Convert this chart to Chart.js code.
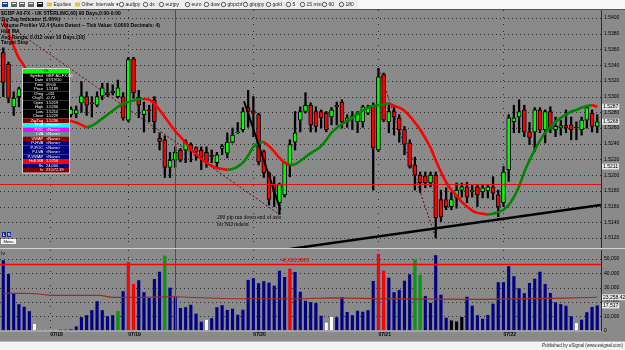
<!DOCTYPE html>
<html>
<head>
<meta charset="utf-8">
<title>GBP A0-FX 60</title>
<script src="https://cdn.jsdelivr.net/npm/chart.js@4.4.1/dist/chart.umd.min.js"></script>
<style>
  html, body { margin: 0; padding: 0; width: 625px; height: 350px; overflow: hidden; background: #8a8a8a; }
  canvas { position: absolute; left: 0; }
  #frame { top: 0; }
  #priceChart { top: 10px; }
  #volumeChart { top: 249px; }
</style>
</head>
<body>
<canvas id="frame" width="625" height="350"></canvas>
<canvas id="priceChart" width="625" height="238"></canvas>
<canvas id="volumeChart" width="625" height="92"></canvas>
<script>
// hourly bars, GBP A0-FX, 07/16 - 07/22
var opens = [
  1.5356,1.5341,1.5287,1.5300,1.5305,1.5296,1.5292,1.5290,1.5289,1.5288,
  1.5287,1.5286,1.5287,1.5277,1.5278,1.5292,1.5300,1.5292,1.5289,1.5301,
  1.5305,1.5307,1.5300,1.5300,1.5270,1.5348,1.5299,1.5277,1.5283,1.5296,
  1.5247,1.5245,1.5210,1.5219,1.5232,1.5232,1.5239,1.5235,1.5232,1.5229,
  1.5225,1.5216,1.5234,1.5228,1.5242,1.5254,1.5258,1.5286,1.5282,1.5277,
  1.5230,1.5203,1.5188,1.5165,1.5175,1.5213,1.5242,1.5270,1.5281,1.5289,
  1.5281,1.5281,1.5279,1.5274,1.5287,1.5293,1.5268,1.5274,1.5268,1.5268,
  1.5279,1.5289,1.5232,1.5328,1.5268,1.5281,1.5273,1.5258,1.5241,1.5213,
  1.5200,1.5199,1.5190,1.5200,1.5169,1.5169,1.5160,1.5171,1.5181,1.5185,
  1.5179,1.5185,1.5179,1.5180,1.5185,1.5175,1.5165,1.5207,1.5268,1.5274,
  1.5283,1.5255,1.5255,1.5283,1.5258,1.5281,1.5258,1.5260,1.5263,1.5264,
  1.5261,1.5258,1.5270,1.5279,1.5262];
var highs = [
  1.5362,1.5344,1.5306,1.5312,1.5312,1.5302,1.5297,1.5292,1.5291,1.5290,
  1.5289,1.5288,1.5289,1.5287,1.5288,1.5319,1.5306,1.5300,1.5306,1.5317,
  1.5317,1.5315,1.5321,1.5305,1.5350,1.5350,1.5308,1.5293,1.5289,1.5300,
  1.5254,1.5250,1.5229,1.5236,1.5234,1.5245,1.5241,1.5236,1.5236,1.5236,
  1.5232,1.5229,1.5239,1.5254,1.5260,1.5267,1.5286,1.5308,1.5300,1.5279,
  1.5232,1.5204,1.5198,1.5190,1.5217,1.5245,1.5281,1.5287,1.5305,1.5292,
  1.5287,1.5283,1.5281,1.5286,1.5293,1.5296,1.5277,1.5281,1.5281,1.5289,
  1.5289,1.5292,1.5336,1.5330,1.5289,1.5289,1.5277,1.5262,1.5245,1.5223,
  1.5204,1.5204,1.5204,1.5204,1.5181,1.5184,1.5178,1.5190,1.5190,1.5191,
  1.5188,1.5188,1.5188,1.5188,1.5198,1.5181,1.5211,1.5277,1.5289,1.5296,
  1.5289,1.5267,1.5286,1.5286,1.5283,1.5287,1.5274,1.5270,1.5283,1.5274,
  1.5268,1.5274,1.5289,1.5283,1.5277];
var lows = [
  1.5300,1.5292,1.5276,1.5287,1.5292,1.5288,1.5287,1.5288,1.5287,1.5286,
  1.5285,1.5284,1.5284,1.5274,1.5273,1.5280,1.5276,1.5274,1.5287,1.5296,
  1.5300,1.5302,1.5298,1.5270,1.5268,1.5298,1.5273,1.5255,1.5268,1.5254,
  1.5232,1.5197,1.5197,1.5210,1.5217,1.5216,1.5217,1.5219,1.5207,1.5210,
  1.5216,1.5210,1.5226,1.5222,1.5241,1.5253,1.5255,1.5261,1.5249,1.5213,
  1.5197,1.5162,1.5160,1.5150,1.5172,1.5198,1.5232,1.5255,1.5279,1.5255,
  1.5255,1.5260,1.5255,1.5264,1.5264,1.5260,1.5261,1.5258,1.5254,1.5261,
  1.5277,1.5181,1.5230,1.5268,1.5254,1.5251,1.5242,1.5226,1.5209,1.5181,
  1.5178,1.5184,1.5185,1.5120,1.5141,1.5156,1.5156,1.5158,1.5172,1.5165,
  1.5172,1.5160,1.5171,1.5171,1.5169,1.5147,1.5160,1.5192,1.5254,1.5254,
  1.5249,1.5239,1.5230,1.5254,1.5241,1.5254,1.5249,1.5251,1.5254,1.5245,
  1.5245,1.5251,1.5260,1.5255,1.5254];
var closes = [
  1.5318,1.5298,1.5298,1.5310,1.5296,1.5292,1.5290,1.5289,1.5288,1.5287,
  1.5286,1.5287,1.5285,1.5284,1.5283,1.5301,1.5289,1.5291,1.5300,1.5311,
  1.5302,1.5305,1.5311,1.5273,1.5347,1.5305,1.5289,1.5283,1.5282,1.5268,
  1.5243,1.5210,1.5219,1.5229,1.5219,1.5242,1.5232,1.5230,1.5223,1.5217,
  1.5224,1.5226,1.5237,1.5242,1.5251,1.5255,1.5281,1.5281,1.5279,1.5217,
  1.5203,1.5169,1.5181,1.5188,1.5216,1.5239,1.5254,1.5281,1.5289,1.5264,
  1.5262,1.5273,1.5258,1.5283,1.5289,1.5268,1.5273,1.5275,1.5279,1.5287,
  1.5287,1.5235,1.5325,1.5270,1.5281,1.5274,1.5258,1.5239,1.5211,1.5200,
  1.5190,1.5190,1.5200,1.5146,1.5147,1.5160,1.5169,1.5181,1.5185,1.5172,
  1.5181,1.5175,1.5184,1.5185,1.5177,1.5160,1.5204,1.5273,1.5273,1.5281,
  1.5255,1.5248,1.5283,1.5258,1.5281,1.5260,1.5262,1.5263,1.5260,1.5258,
  1.5260,1.5270,1.5286,1.5262,1.5268];
var hullMA = [
  1.5398,1.5381,1.5364,1.5349,1.5339,1.5326,1.5314,1.5302,1.5293,1.5286,
  1.5279,1.5275,1.5272,1.5269,1.5267,1.5264,1.5261,1.5263,1.5267,1.5272,
  1.5277,1.5282,1.5287,1.5291,1.5293,1.5295,1.5297,1.5297,1.5296,1.5291,
  1.5283,1.5274,1.5265,1.5256,1.5249,1.5241,1.5233,1.5227,1.5221,1.5216,
  1.5212,1.5209,1.5208,1.5207,1.5208,1.5211,1.5216,1.5225,1.5236,1.5241,
  1.5242,1.5237,1.5230,1.5222,1.5216,1.5213,1.5214,1.5218,1.5223,1.5228,
  1.5232,1.5237,1.5245,1.5254,1.5260,1.5265,1.5269,1.5273,1.5278,1.5282,
  1.5286,1.5288,1.5289,1.5290,1.5291,1.5288,1.5286,1.5282,1.5275,1.5267,
  1.5258,1.5247,1.5235,1.5219,1.5204,1.5191,1.5181,1.5174,1.5166,1.5160,
  1.5155,1.5152,1.5151,1.5150,1.5151,1.5153,1.5156,1.5162,1.5172,1.5186,
  1.5204,1.5219,1.5232,1.5244,1.5254,1.5261,1.5268,1.5273,1.5277,1.5281,
  1.5283,1.5286,1.5288,1.5289,1.5287];
var volumes = [
  49200,39600,26100,18400,16800,13500,4900,600,600,600,
  600,700,700,800,3000,9300,10700,14200,20500,14200,
  10000,10700,13500,27500,47800,32600,35200,26800,22800,36100,
  41200,52400,30000,24000,15800,16300,18200,11900,6300,7700,
  8600,16300,17700,14400,15400,11200,14700,35400,36600,33100,
  34500,33600,31500,41900,37500,43300,41000,27300,21000,19800,
  19300,10500,5800,9800,9300,23300,13000,10700,14000,13300,
  14200,34700,53600,41900,37000,26800,28400,35000,39400,49600,
  38900,24200,19300,52700,25200,9100,7200,6500,9600,23800,
  17500,10700,8400,11000,18900,33800,33800,45000,38000,29600,
  26100,33300,36300,41200,32600,26300,19800,18400,17500,10000,
  5400,7700,12800,16500,17517];
// volume bar class: n normal, r red, g green, w white, k black (10 per group)
var volumeKinds = (
  'nnnnnnwwww' + 'wnnnnnnnnn' + 'nngnrrnnnn' + 'ngnnnnnnnw' +
  'nnnnnnnnnn' + 'nnnnnrnnnn' + 'nnwwnnnnnn' + 'nnrrnnnnng' +
  'gnnnnnkkkn' + 'nnnnnnnnnn' + 'nnnnnnnnnn' + 'wnnnn'
).split('');
var avgVolIdx = [0, 4, 6.5, 9, 14, 18.6, 21, 25, 33, 38, 44, 57, 63, 72, 83, 92, 102, 108, 114];
var avgVol = [26000, 26000, 25700, 24600, 24500, 24600, 23200, 23200, 23600, 22900, 22200, 22200, 22800, 22300, 22000, 21800, 22300, 22600, 23258.42];
var volumeAlert = 46602.8909;

var zigzagIdx = [0, 53, 72, 83, 114];
var zigzagPrice = [1.5395, 1.5150, 1.5336, 1.5120, 1.5211];
var trendIdx = [55, 114.7];
var trendPrice = [1.5106, 1.5162];
var drawnIdx = [46.2, 53.2];
var drawnPrice = [1.5294, 1.5156];

var priceTicks = [1.5120, 1.5140, 1.5160, 1.5180, 1.5200, 1.5220, 1.5240, 1.5260, 1.5280, 1.5300, 1.5320, 1.5340, 1.5360, 1.5380, 1.5400];
var volumeTicks = [0, 10000, 20000, 30000, 40000, 50000];
var dayIdx = [9, 24, 48, 72, 96];
var dayLabels = ['07/18', '07/19', '07/20', '07/21', '07/22'];
var crossIdx = 33;
var crossPrice = 1.5189;

var BG = '#8a8a8a';
var FONT = '"Liberation Sans Narrow", "Liberation Sans", Arial, sans-serif';
Chart.defaults.font.family = FONT;
Chart.defaults.color = '#000';

var barIdx = closes.map(function (c, i) { return i; });
function pts(xs, ys) { return xs.map(function (x, i) { return { x: x, y: ys[i] }; }); }
function fmt(v) { return v.toLocaleString('en-US'); }
function noPad(s) { s.paddingTop = 0; s.paddingBottom = 0; s.paddingLeft = 0; s.paddingRight = 0; }

function hLine(ctx, x1, x2, y) { ctx.beginPath(); ctx.moveTo(x1, y); ctx.lineTo(x2, y); ctx.stroke(); }
function vLine(ctx, x, y1, y2) { ctx.beginPath(); ctx.moveTo(x, y1); ctx.lineTo(x, y2); ctx.stroke(); }

function axisBox(ctx, x, y, text) {
  ctx.save();
  ctx.font = '5px ' + FONT;
  var w = ctx.measureText(text).width + 2;
  ctx.fillStyle = '#e6e6e6';
  ctx.fillRect(x, y - 3, w, 6);
  ctx.fillStyle = '#000';
  ctx.textBaseline = 'middle';
  ctx.textAlign = 'left';
  ctx.fillText(text, x + 1, y + 0.3);
  ctx.restore();
}

// ---- window frame: toolbar, panel divider, footer
var fr = document.getElementById('frame').getContext('2d');
fr.fillStyle = BG; fr.fillRect(0, 0, 625, 350);
fr.fillStyle = '#eeeeec'; fr.fillRect(0, 0, 625, 9);
fr.fillStyle = '#f8f8f8'; fr.fillRect(358, 0, 267, 9);
fr.fillStyle = '#555'; fr.fillRect(0, 9, 625, 1);
[[2, '#1f3f9a'], [11, '#666'], [19, '#666'], [28, '#666'], [37, '#222']].forEach(function (ic) {
  fr.fillStyle = ic[1]; fr.fillRect(ic[0], 2, 6, 5);
  fr.fillStyle = '#eee'; fr.fillRect(ic[0] + 1, 3, 4, 1);
});
var toolItems = [['Equities', 47, 'f'], ['Other Intervals \u25BE', 75, 'f'], ['audjpy', 119, 'o'], ['dx', 143, 'o'],
  ['eurjpy', 159, 'o'], ['euro', 185, 'o'], ['dow', 204, 'o'], ['gbpchf', 221, 'o'], ['gbpjpy', 243, 'o'],
  ['gold', 266, 'o'], ['5', 286, 'o'], ['15 min', 300, 'o'], ['60', 322, 'o'], ['180', 339, 'o']];
fr.font = '5px ' + FONT; fr.textBaseline = 'middle';
toolItems.forEach(function (t) {
  if (t[2] === 'f') { fr.fillStyle = '#e8c040'; fr.fillRect(t[1], 2.5, 5, 4); }
  else { fr.strokeStyle = '#333'; fr.lineWidth = 0.8; fr.beginPath(); fr.arc(t[1] + 2.5, 4.5, 2.2, 0, Math.PI * 2); fr.stroke(); }
  fr.fillStyle = '#222'; fr.fillText(t[0], t[1] + 6.5, 4.8);
});
fr.fillStyle = '#d2d2d2'; fr.fillRect(0, 248, 625, 1);
fr.fillStyle = '#f3f3f3'; fr.fillRect(0, 341, 625, 9);
fr.fillStyle = '#b8b8b8'; fr.fillRect(0, 341, 625, 1);
fr.fillStyle = '#222'; fr.font = '4.5px ' + FONT; fr.textAlign = 'right';
fr.fillText('Published by eSignal (www.esignal.com)', 623, 346);

// ---- price panel
var priceDeco = {
  id: 'priceDeco',
  beforeDraw: function (chart) {
    var ctx = chart.ctx;
    ctx.save(); ctx.fillStyle = BG; ctx.fillRect(0, 0, chart.width, chart.height); ctx.restore();
  },
  beforeDatasetsDraw: function (chart) {
    var ctx = chart.ctx, a = chart.chartArea, x = chart.scales.x, y = chart.scales.y;
    ctx.save();
    ctx.strokeStyle = '#2e2e2e'; ctx.lineWidth = 1;
    ctx.setLineDash([1, 3]);
    priceTicks.forEach(function (v) { hLine(ctx, a.left, a.right, Math.round(y.getPixelForValue(v)) + 0.5); });
    ctx.setLineDash([1, 6]);
    dayIdx.forEach(function (d) { vLine(ctx, Math.round(x.getPixelForValue(d)) + 0.5, a.top, a.bottom); });
    ctx.restore();
  },
  afterDatasetsDraw: function (chart) {
    var ctx = chart.ctx, a = chart.chartArea, x = chart.scales.x, y = chart.scales.y;
    ctx.save();
    // crosshair
    ctx.strokeStyle = '#e01010'; ctx.lineWidth = 1;
    hLine(ctx, a.left, a.right, Math.round(y.getPixelForValue(crossPrice)) + 0.5);
    vLine(ctx, Math.round(x.getPixelForValue(crossIdx)) + 0.5, a.top, a.bottom);
    // study titles
    var titles = ['$GBP A0-FX - UK STERLING,60) 90 Days,0:00-0:00', 'Zig Zag Indicator (1.00%)',
      'Volume Profiler V2.4 (Auto Detect -- Tick Value: 0.0001 Decimals: 4)', 'Hull MA',
      'Avg Range: 0.012 over 10 Days.(10)', 'Target Stop'];
    ctx.fillStyle = '#000'; ctx.font = 'bold 5px ' + FONT; ctx.textBaseline = 'middle'; ctx.textAlign = 'left';
    titles.forEach(function (t, i) { ctx.fillText(t, 1, 4 + i * 5.8); });
    // note
    ctx.font = '5.5px "Liberation Serif", serif';
    ctx.fillText('200 pip run down end of asia', 217, 208);
    ctx.fillText('for NO reason', 217, 215);
    // data window
    var i = crossIdx;
    var rows = [
      ['#00ff00', '', 'Ok', '#000'],
      ['#000', 'Symbol', 'GBP A0-FX,60', '#fff'], ['#000', 'Date', '07/19/10', '#fff'], ['#000', 'Time', '09:00', '#fff'],
      ['#000', 'Price', crossPrice.toFixed(4), '#fff'], ['#000', 'Chng', '-.011', '#fff'], ['#000', 'Chg%', '-0.72', '#fff'],
      ['#000', 'Open', opens[i].toFixed(4), '#fff'], ['#000', 'High', highs[i].toFixed(4), '#fff'],
      ['#000', 'Low', lows[i].toFixed(4), '#fff'], ['#000', 'Close', closes[i].toFixed(4), '#fff'],
      ['#800000', 'ZigZag', '1.5236', '#fff'], ['#00ffff', 'HVA', '<None>', '#fff'], ['#ff00ff', 'POC', '<None>', '#fff'],
      ['#5f8f8f', 'LVA', '<None>', '#fff'], ['#800000', 'VWAP', '<None>', '#fff'],
      ['#000080', 'P-HVA', '<None>', '#fff'], ['#000080', 'P-POC', '<None>', '#fff'], ['#000080', 'P-LVA', '<None>', '#fff'],
      ['#000080', 'P-VWAP', '<None>', '#fff'], ['#ff0000', 'Hull MA', hullMA[i].toFixed(4), '#fff'],
      ['#000080', 'Sv', fmt(volumes[i]), '#fff'], ['#800000', 'Iv', '23,572.39', '#fff']];
    var px = 23, py = 59, pw = 46, rh = 4.5;
    ctx.fillStyle = '#cfcfcf'; ctx.fillRect(px - 1, py - 1, pw + 2, rows.length * rh + 2);
    ctx.font = '4px ' + FONT;
    rows.forEach(function (r, k) {
      var ry = py + k * rh;
      ctx.fillStyle = r[0]; ctx.fillRect(px, ry, pw, rh);
      ctx.fillStyle = r[3];
      if (r[1] === '') { ctx.textAlign = 'center'; ctx.fillText(r[2], px + pw / 2, ry + rh / 2); }
      else {
        ctx.textAlign = 'right'; ctx.fillText(r[1], px + pw * 0.44, ry + rh / 2);
        ctx.textAlign = 'left'; ctx.fillText(r[2], px + pw * 0.5, ry + rh / 2);
      }
    });
    // L / S / Menu buttons
    ctx.fillStyle = '#1a2a9a'; ctx.fillRect(2, 222, 4, 5); ctx.fillRect(7, 222, 4, 5);
    ctx.fillStyle = '#fff'; ctx.font = 'bold 4px ' + FONT; ctx.textAlign = 'center';
    ctx.fillText('L', 4, 224.7); ctx.fillText('S', 9, 224.7);
    ctx.fillStyle = '#f4f4f4'; ctx.fillRect(1, 229, 15, 5);
    ctx.fillStyle = '#000'; ctx.font = '4px ' + FONT; ctx.fillText('Menu', 8.5, 231.7);
    ctx.restore();
  },
  afterDraw: function (chart) {
    var ctx = chart.ctx, a = chart.chartArea, y = chart.scales.y, n = closes.length - 1;
    axisBox(ctx, a.right + 1, y.getPixelForValue(hullMA[n]), hullMA[n].toFixed(4));
    axisBox(ctx, a.right + 1, y.getPixelForValue(closes[n]), closes[n].toFixed(4));
    axisBox(ctx, a.right + 1, y.getPixelForValue(zigzagPrice[zigzagPrice.length - 1]), zigzagPrice[zigzagPrice.length - 1].toFixed(4));
  }
};

new Chart(document.getElementById('priceChart'), {
  type: 'bar',
  data: {
    datasets: [
      { type: 'line', label: 'Trend', data: pts(trendIdx, trendPrice), borderColor: '#000', borderWidth: 2.4, pointRadius: 0, order: 0 },
      { type: 'line', label: 'Drawn', data: pts(drawnIdx, drawnPrice), borderColor: '#000', borderWidth: 2, pointRadius: 0, order: 0 },
      {
        type: 'line', label: 'Hull MA', data: pts(barIdx, hullMA), borderColor: '#ff0000', borderWidth: 2.6,
        pointRadius: 0, tension: 0.3, order: 1,
        segment: { borderColor: function (c) { return c.p1.parsed.y < c.p0.parsed.y ? '#ff0000' : '#008600'; } }
      },
      {
        label: 'Body', data: barIdx.map(function (i) { return { x: i, y: [opens[i], closes[i]] }; }),
        backgroundColor: barIdx.map(function (i) { return closes[i] >= opens[i] ? '#00ff00' : '#ff0000'; }),
        borderColor: '#000', borderWidth: 1, borderSkipped: false, barThickness: 4, minBarLength: 1, grouped: false, order: 2
      },
      {
        label: 'Wick', data: barIdx.map(function (i) { return { x: i, y: [lows[i], highs[i]] }; }),
        backgroundColor: '#000', barThickness: 1.6, grouped: false, order: 3
      },
      {
        type: 'line', label: 'ZigZag', data: pts(zigzagIdx, zigzagPrice), borderColor: '#7a0000', borderWidth: 1,
        borderDash: [2, 2], pointRadius: 0, order: 4,
        segment: { borderColor: function (c) { return c.p1.parsed.y < c.p0.parsed.y ? '#7a0000' : '#4fa3a3'; } }
      }
    ]
  },
  options: {
    responsive: false,
    animation: false,
    layout: { padding: 0 },
    plugins: { legend: { display: false }, tooltip: { enabled: false } },
    scales: {
      x: { type: 'linear', display: false, offset: false, min: -0.63, max: 114.72 },
      y: {
        position: 'right', min: 1.51073, max: 1.54102,
        afterBuildTicks: function (s) { s.ticks = priceTicks.map(function (v) { return { value: v }; }); },
        afterFit: function (s) { s.width = 24; noPad(s); },
        ticks: { font: { size: 5 }, padding: 3, autoSkip: false, callback: function (v) { return v.toFixed(4); } },
        grid: { display: false, drawTicks: false },
        border: { display: true, color: '#2a2a2a', width: 1 }
      }
    }
  },
  plugins: [priceDeco]
});

// ---- volume panel
var volColors = { n: '#000080', r: '#ff0000', g: '#00a000', w: '#ffffff', k: '#000000' };
var volumeDeco = {
  id: 'volumeDeco',
  beforeDraw: function (chart) {
    var ctx = chart.ctx;
    ctx.save(); ctx.fillStyle = BG; ctx.fillRect(0, 0, chart.width, chart.height); ctx.restore();
  },
  beforeDatasetsDraw: function (chart) {
    var ctx = chart.ctx, a = chart.chartArea, x = chart.scales.x, y = chart.scales.y;
    ctx.save();
    ctx.strokeStyle = '#2e2e2e'; ctx.lineWidth = 1;
    ctx.setLineDash([1, 3]);
    volumeTicks.slice(1).forEach(function (v) { hLine(ctx, a.left, a.right, Math.round(y.getPixelForValue(v)) + 0.5); });
    ctx.setLineDash([1, 6]);
    dayIdx.forEach(function (d) { vLine(ctx, Math.round(x.getPixelForValue(d)) + 0.5, a.top, a.bottom); });
    ctx.restore();
  },
  afterDatasetsDraw: function (chart) {
    var ctx = chart.ctx, a = chart.chartArea, x = chart.scales.x, y = chart.scales.y;
    ctx.save();
    var ay = Math.round(y.getPixelForValue(volumeAlert)) + 0.5;
    ctx.strokeStyle = '#ff0000'; ctx.lineWidth = 1.4;
    hLine(ctx, a.left, a.right, ay);
    ctx.fillStyle = '#e00000'; ctx.font = '5px ' + FONT; ctx.textAlign = 'right'; ctx.textBaseline = 'middle';
    ctx.fillText(volumeAlert.toLocaleString('en-US', { maximumFractionDigits: 4 }), 309, ay - 3.5);
    ctx.strokeStyle = '#e01010'; ctx.lineWidth = 1;
    vLine(ctx, Math.round(x.getPixelForValue(crossIdx)) + 0.5, 0, a.bottom);
    ctx.fillStyle = '#000'; ctx.textAlign = 'left';
    ctx.fillText('Iv', 1, 5);
    ctx.strokeStyle = '#bdbdbd'; ctx.lineWidth = 1;
    hLine(ctx, a.left, a.right, a.bottom + 0.5);
    ctx.restore();
  },
  afterDraw: function (chart) {
    var ctx = chart.ctx, a = chart.chartArea, y = chart.scales.y, n = volumes.length - 1, m = avgVol.length - 1;
    axisBox(ctx, a.right + 1, y.getPixelForValue(avgVol[m]), avgVol[m].toLocaleString('en-US', { minimumFractionDigits: 2 }));
    axisBox(ctx, a.right + 1, y.getPixelForValue(volumes[n]), fmt(volumes[n]));
  }
};

new Chart(document.getElementById('volumeChart'), {
  type: 'bar',
  data: {
    datasets: [
      {
        type: 'line', label: 'Avg Volume', data: pts(avgVolIdx, avgVol), borderColor: '#962e24', borderWidth: 1.2,
        pointRadius: 0, order: 0
      },
      {
        label: 'Volume', data: pts(barIdx, volumes),
        backgroundColor: barIdx.map(function (i) { return volColors[volumeKinds[i]] || volColors.n; }),
        borderColor: '#6f6f9a', borderWidth: { left: 0.5, right: 0.5, top: 0.5, bottom: 0 },
        barThickness: 3.4, grouped: false, order: 1
      }
    ]
  },
  options: {
    responsive: false,
    animation: false,
    layout: { padding: { top: 1 } },
    plugins: { legend: { display: false }, tooltip: { enabled: false } },
    scales: {
      x: {
        type: 'linear', offset: false, min: -0.63, max: 114.72,
        afterBuildTicks: function (s) { s.ticks = dayIdx.map(function (v) { return { value: v }; }); },
        afterFit: function (s) { s.height = 10.5; noPad(s); },
        ticks: {
          font: { size: 5, weight: 'bold' }, padding: 1, align: 'start', maxRotation: 0, autoSkip: false,
          callback: function (v) { var k = dayIdx.indexOf(v); return k >= 0 ? dayLabels[k] : ''; }
        },
        grid: { display: false, drawTicks: false },
        border: { display: false }
      },
      y: {
        position: 'right', min: 0, max: 56300,
        afterBuildTicks: function (s) { s.ticks = volumeTicks.map(function (v) { return { value: v }; }); },
        afterFit: function (s) { s.width = 24; noPad(s); },
        ticks: { font: { size: 5 }, padding: 3, autoSkip: false, callback: function (v) { return fmt(v); } },
        grid: { display: false, drawTicks: false },
        border: { display: true, color: '#2a2a2a', width: 1 }
      }
    }
  },
  plugins: [volumeDeco]
});
</script>
</body>
</html>
